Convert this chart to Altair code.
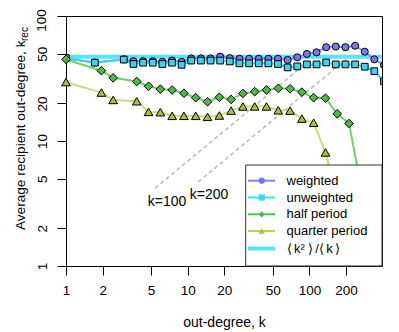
import altair as alt
import pandas as pd

# ---- data ----
# weighted / unweighted: log bins with ratio 1.2
k_w = [1.0, 1.728, 2.986, 3.583, 4.300, 5.160, 6.192, 7.430, 8.916, 10.70,
       12.84, 15.41, 18.49, 22.19, 26.62, 31.95, 38.34, 46.01, 55.21, 66.25,
       79.50, 95.40, 114.5, 137.4, 164.8, 197.8, 237.4, 284.9, 341.8, 410.2]
weighted = [46, 42.5, 45, 43.5, 43.5, 43.5, 43, 44, 43, 45.8,
            45.8, 45.8, 47.3, 46, 45.5, 45.5, 45.5, 45.5, 45.5, 44.5,
            46.7, 49.7, 51.2, 56.3, 56.9, 56.3, 57.8, 51.8, 45.0, 40.5]
unweighted = [46, 42.3, 44.8, 41.3, 42.3, 42.3, 41.3, 42.3, 40.7, 44,
              44, 44, 44, 43.3, 41.8, 41.8, 41.8, 41.8, 41.3, 38.8,
              39.5, 41.0, 41.0, 42.5, 41.0, 41.0, 41.0, 39.3, 36.2, 30.0]
# half / quarter period: log bins with ratio 1.25
k_h = [1.0, 1.953, 2.441, 3.815, 4.768, 5.960, 7.451, 9.313, 11.64, 14.55,
       18.19, 22.74, 28.42, 35.53, 44.41, 55.51, 69.39, 86.74, 108.4, 135.5,
       169.4, 211.8, 264.7]
half_period = [45, 36.5, 32.0, 29.9, 27.4, 26.0, 25.6, 24.1, 22.2, 20.6,
               22.4, 21.5, 24.0, 24.8, 25.6, 26.4, 26.2, 24.6, 22.2, 22.0,
               16.5, 13.8, 4.4]
quarter_period = [29.6, 24.4, 21.3, 20.8, 17.1, 17.0, 15.9, 15.9, 15.9, 15.6,
                  16.0, 17.5, 18.9, 18.9, 18.9, 17.6, 17.5, 15.1, 14.0, 8.1,
                  3.5]
k_q = k_h[:21]
ratio_k2_k = 47.3

# dashed guide lines (k=100, k=200)
guide_k = [5.4, 100, 12.2, 200]
guide_v = [4.2, 44, 4.7, 45]
guide_g = ["k=100", "k=100", "k=200", "k=200"]
guide_lab_k = [6.76, 14.96]
guide_lab_v = [3.25, 3.70]
guide_lab = ["k=100", "k=200"]

x_ticks = [1, 2, 5, 10, 20, 50, 100, 200]
y_ticks = [1, 2, 5, 10, 20, 50, 100]

TS = "\u2009"
legend_labels = ["weighted", "unweighted", "half period", "quarter period",
                 "\u27e8" + TS + "k\u00b2" + TS + "\u27e9" + TS + "/" + "\u27e8" + TS + "k" + TS + "\u27e9"]

FONT = "Liberation Sans"

xs = alt.Scale(type="log", domain=[1, 395], nice=False)
ys = alt.Scale(type="log", domain=[1, 100], nice=False)
x_axis = alt.Axis(values=x_ticks, format="d", title="out-degree, k", labelPadding=8,
                  titlePadding=19, labelFlush=False, labelOverlap=False)
# the top label ("100") is drawn as a separate text so that it stays inside the page
y_axis = alt.Axis(values=y_ticks, format="d", title=None, labelAngle=270,
                  labelAlign="center", labelBaseline="bottom", labelPadding=8,
                  labelOverlap=False, labelFlush=False,
                  labelExpr="datum.value >= 100 ? '' : datum.label")


def X(field="k"):
    return alt.X(f"{field}:Q", scale=xs, axis=x_axis)


def Y(field="v"):
    return alt.Y(f"{field}:Q", scale=ys, axis=y_axis)


layers = []

# dashed guides
gdf = pd.DataFrame({"k": guide_k, "v": guide_v, "g": guide_g})
layers.append(alt.Chart(gdf).mark_line(color="#bbbbbb", strokeWidth=1.5, strokeDash=[4, 3])
              .encode(x=X(), y=Y(), detail="g:N"))
ldf = pd.DataFrame({"k": guide_lab_k, "v": guide_lab_v, "t": guide_lab})
layers.append(alt.Chart(ldf).mark_text(font=FONT, fontSize=14, color="black", align="center",
                                        baseline="middle")
              .encode(x=X(), y=Y(), text="t:N"))

# <k^2>/<k>
rdf = pd.DataFrame({"v": [ratio_k2_k]})
layers.append(alt.Chart(rdf).mark_rule(color="#55e5f5", strokeWidth=4).encode(y=Y()))

series = [
    (k_w, weighted, "#8c8cff", "#7878f0", "circle", 50),
    (k_w, unweighted, "#30d8f0", "#3fd2ea", "square", 45),
    (k_h, half_period, "#6fd06a", "#4cbb40", "diamond", 75),
    (k_q, quarter_period, "#c8dd82", "#a8c43c", "triangle-up", 75),
]
for ks, vs, lc, fc, shp, sz in series:
    df = pd.DataFrame({"k": ks, "v": vs})
    layers.append(alt.Chart(df).mark_line(color=lc, strokeWidth=2, clip=True)
                  .encode(x=X(), y=Y()))
    layers.append(alt.Chart(df).mark_point(shape=shp, filled=True, fill=fc, stroke="black",
                                           strokeWidth=1, size=sz, opacity=1,
                                           clip=(shp in ("circle", "square")))
                  .encode(x=X(), y=Y()))

# legend (pixel positions inside the plot area)
one = pd.DataFrame({"a": [0]})
layers.append(alt.Chart(one).mark_rect(fill="white", stroke="#333333", strokeWidth=1)
              .encode(x=alt.value(179.7), x2=alt.value(316), y=alt.value(149), y2=alt.value(250)))
leg_y = [164.7, 181.5, 198.3, 215.0, 232.5]
leg_line = ["#8080ff", "#40e0f0", "#50c850", "#b5d35a", "#55e5f5"]
leg_fill = ["#6f6ff2", "#35d5ee", "#3cbb3c", "#9fc03a", None]
leg_shape = ["circle", "square", "diamond", "triangle-up", None]
for i in range(5):
    lw = 4 if i == 4 else 2
    layers.append(alt.Chart(one).mark_rule(color=leg_line[i], strokeWidth=lw)
                  .encode(x=alt.value(182), x2=alt.value(209), y=alt.value(leg_y[i])))
    if leg_shape[i]:
        layers.append(alt.Chart(one).mark_point(shape=leg_shape[i], filled=True, fill=leg_fill[i],
                                                 size=40, opacity=0.9)
                      .encode(x=alt.value(195.7), y=alt.value(leg_y[i])))
    layers.append(alt.Chart(one).mark_text(font=FONT, fontSize=13, align="left", baseline="middle",
                                            color="black")
                  .encode(x=alt.value(220.5), y=alt.value(leg_y[i]), text=alt.value(legend_labels[i])))

# top y tick label, nudged to stay inside the page
layers.append(alt.Chart(one).mark_text(font=FONT, fontSize=13.5, angle=270, align="center",
                                        baseline="bottom", color="black")
              .encode(x=alt.value(-17), y=alt.value(4.5), text=alt.value("100")))

# y-axis title with subscript
layers.append(alt.Chart(one).mark_text(font=FONT, fontSize=13.6, angle=270, align="left",
                                        baseline="alphabetic", color="black")
              .encode(x=alt.value(-41), y=alt.value(214),
                      text=alt.value("Average recipient out-degree, k")))
layers.append(alt.Chart(one).mark_text(font=FONT, fontSize=10, angle=270, align="left",
                                        baseline="alphabetic", color="black")
              .encode(x=alt.value(-37.7), y=alt.value(25), text=alt.value("rec")))

chart = (alt.layer(*layers)
         .properties(width=316, height=250,
                     autosize=alt.AutoSizeParams(type="none"),
                     padding={"left": 58, "top": 8, "right": 9, "bottom": 66})
         .configure_view(stroke="black", strokeWidth=1)
         .configure_axis(grid=False, domain=False, tickColor="black", tickSize=9, tickWidth=1,
                         labelColor="black", titleColor="black", labelFont=FONT, titleFont=FONT,
                         labelFontSize=13.5, titleFontSize=14, titleFontWeight="normal"))

chart.save("out.html", embed_options={"renderer": "svg", "actions": False})
